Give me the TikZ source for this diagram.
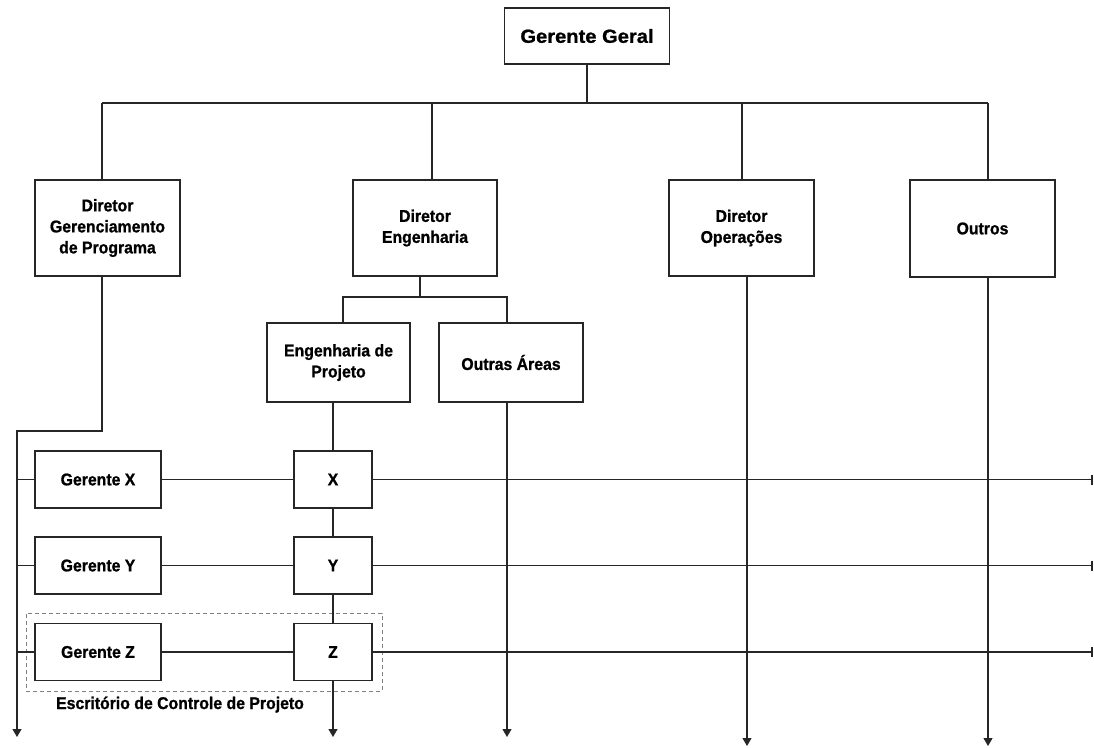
\documentclass[tikz,border=0pt]{standalone}
\usepackage{fontspec}
\setmainfont{Liberation Sans}[FakeStretch=0.93,FakeBold=1]
\newfontfamily\titlefont{Liberation Sans}[FakeStretch=1.06,FakeBold=1]
\usetikzlibrary{arrows.meta}
\begin{document}
\begin{tikzpicture}[x=1pt,y=-1pt,
  box/.style={draw=black!85, line width=1.1pt, align=center, inner sep=0pt, outer sep=0pt,
              font=\bfseries\fontsize{17}{21}\selectfont},
  wire/.style={draw=black!85, line width=1.1pt},
  down/.style={wire, -{Triangle[width=9pt,length=8pt]}},
  barend/.style={wire, -{Bar[width=10pt,line width=2.5pt]}},
  office/.style={draw=black!50, line width=1pt, dash pattern=on 4pt off 3pt, inner sep=0pt, outer sep=0pt},
  caption/.style={inner sep=0pt, font=\bfseries\fontsize{17}{21}\selectfont}
]
\useasboundingbox (0,0) rectangle (1094,747);

% top of the hierarchy
\node[box, minimum width=165, minimum height=56,
      font=\titlefont\bfseries\fontsize{19}{23}\selectfont] (gg) at (587,36) {Gerente Geral};

% directors
\node[box, minimum width=145, minimum height=96] (dgp) at (107.5,228) {Diretor\\Gerenciamento\\de Programa};
\node[box, minimum width=144, minimum height=96] (de)  at (425,228)   {Diretor\\Engenharia};
\node[box, minimum width=145, minimum height=96] (dop) at (741.5,228) {Diretor\\Operações};
\node[box, minimum width=145, minimum height=97] (out) at (982.5,228.5) {Outros};

% engineering areas
\node[box, minimum width=143, minimum height=79] (ep) at (338.5,362.5) {Engenharia de\\Projeto};
\node[box, minimum width=144, minimum height=79] (oa) at (511,362.5)   {Outras Áreas};

% project managers and project rows
\node[box, minimum width=126, minimum height=57] (gx) at (98,479.5) {Gerente X};
\node[box, minimum width=126, minimum height=57] (gy) at (98,565.5) {Gerente Y};
\node[box, minimum width=126, minimum height=57] (gz) at (98,652)   {Gerente Z};
\node[box, minimum width=78, minimum height=57] (px) at (333,479.5) {X};
\node[box, minimum width=78, minimum height=57] (py) at (333,565.5) {Y};
\node[box, minimum width=78, minimum height=57] (pz) at (333,652)   {Z};

% project control office
\node[office, minimum width=356, minimum height=78] (pco) at (204,652) {};
\node[caption, anchor=base] (pcolabel) at (180,709) {Escritório de Controle de Projeto};

% main bus
\coordinate (busL) at (102,103);
\coordinate (busR) at (988,103);
\coordinate (tapE) at (432,103);
\coordinate (tapO) at (742,103);
\draw[wire] (busL) -- (busR);
\draw[wire] (gg.south) -- (gg.south |- busL);
\draw[wire] (busL) -- (busL |- dgp.north);
\draw[wire] (tapE) -- (tapE |- de.north);
\draw[wire] (tapO) -- (tapO |- dop.north);
\draw[wire] (busR) -- (busR |- out.north);

% engineering branch
\coordinate (engJ) at (420,297);
\coordinate (engL) at (343,297);
\coordinate (engR) at (507,297);
\draw[wire] (engJ |- de.south) -- (engJ);
\draw[wire] (engL |- ep.north) -- (engL) -- (engR) -- (engR |- oa.north);

% program management line
\coordinate (pgBend) at (102,431);
\coordinate (pgCorner) at (17,431);
\coordinate (pgEnd) at (17,737);
\draw[down] (pgBend |- dgp.south) -- (pgBend) -- (pgCorner) -- (pgEnd);

% rows
\coordinate (rightEdge) at (1093,0);
\draw[wire] (pgCorner |- gx.west) -- (gx.west);
\draw[wire] (pgCorner |- gy.west) -- (gy.west);
\draw[wire] (pgCorner |- gz.west) -- (gz.west);
\draw[wire] (gx) -- (px);
\draw[wire] (gy) -- (py);
\draw[wire] (gz) -- (pz);
\draw[barend] (px.east) -- (px.east -| rightEdge);
\draw[barend] (py.east) -- (py.east -| rightEdge);
\draw[barend] (pz.east) -- (pz.east -| rightEdge);

% project engineering column
\draw[wire] (px.north |- ep.south) -- (px.north);
\draw[wire] (px) -- (py);
\draw[wire] (py) -- (pz);

% open ends at the bottom
\coordinate (bottomL) at (0,737);
\coordinate (bottomR) at (0,746);
\coordinate (opX) at (747,0);
\draw[down] (pz.south) -- (pz.south |- bottomL);
\draw[down] (engR |- oa.south) -- (engR |- bottomL);
\draw[down] (opX |- dop.south) -- (opX |- bottomR);
\draw[down] (busR |- out.south) -- (busR |- bottomR);
\end{tikzpicture}
\end{document}
